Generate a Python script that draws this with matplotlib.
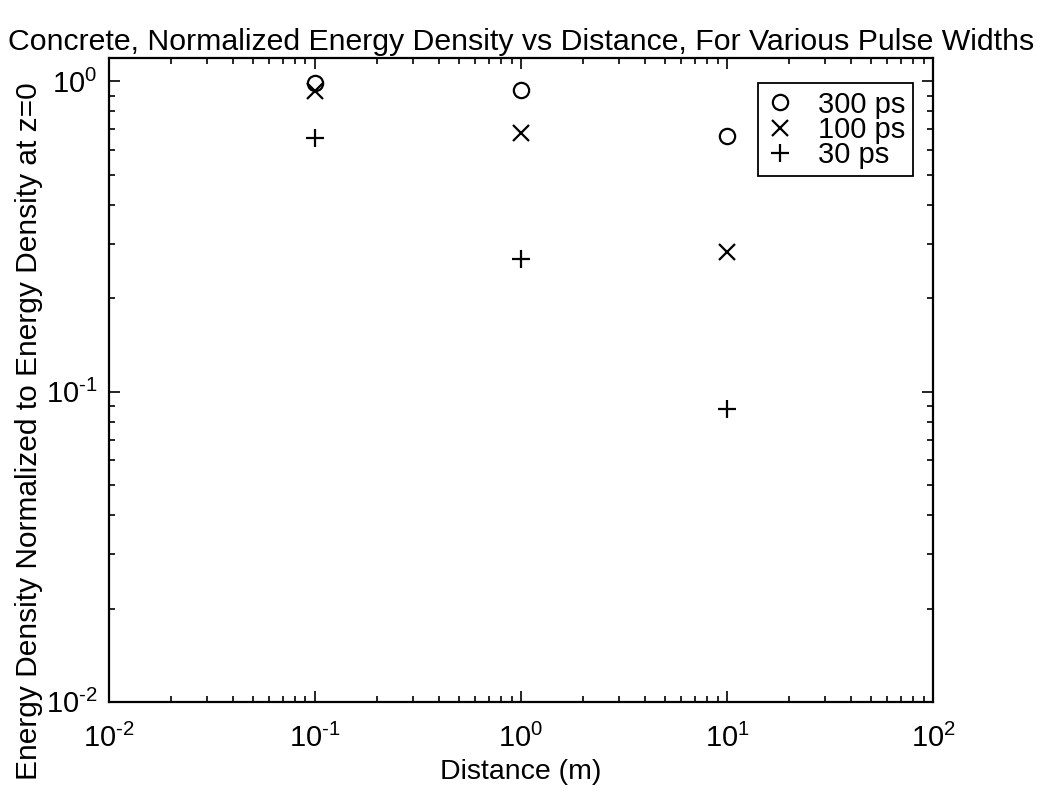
import matplotlib
matplotlib.use("Agg")
import matplotlib.pyplot as plt
from matplotlib.ticker import LogLocator, NullFormatter

plt.rcParams['font.family'] = ['Liberation Sans', 'DejaVu Sans']
plt.rcParams['mathtext.fontset'] = 'custom'
plt.rcParams['mathtext.rm'] = 'Liberation Sans'
plt.rcParams['mathtext.it'] = 'Liberation Sans'

distance = [0.1, 1.0, 10.0]
e_300ps = [0.99, 0.94, 0.665]
e_100ps = [0.93, 0.68, 0.282]
e_30ps = [0.655, 0.268, 0.088]
labels = ['300 ps', '100 ps', '30 ps']
xtick_vals = [1e-2, 1e-1, 1e0, 1e1, 1e2]
xtick_labels = [r'$10^{\text{-2}}$', r'$10^{\text{-1}}$', r'$10^{0}$', r'$10^{1}$', r'$10^{2}$']
ytick_vals = [1e-2, 1e-1, 1e0]
ytick_labels = [r'$10^{\text{-2}}$', r'$10^{\text{-1}}$', r'$10^{0}$']

fig = plt.figure(figsize=(10.45, 7.94), dpi=100)
ax = fig.add_axes([0.104, 0.116, 0.789, 0.811])

ax.plot(distance, e_300ps, linestyle='none', marker='o', markersize=11,
        markerfacecolor='none', markeredgecolor='black', markeredgewidth=1.6, label=labels[0])
ax.plot(distance, e_100ps, linestyle='none', marker='x', markersize=12,
        color='black', markeredgewidth=1.6, label=labels[1])
ax.plot(distance, e_30ps, linestyle='none', marker='+', markersize=13,
        color='black', markeredgewidth=1.6, label=labels[2])

ax.set_xscale('log')
ax.set_yscale('log')
ax.set_xlim(1e-2, 1e2)
ax.set_ylim(1e-2, 1.19)
ax.set_xticks(xtick_vals)
ax.set_xticklabels(xtick_labels)
ax.set_yticks(ytick_vals)
ax.set_yticklabels(ytick_labels)
ax.xaxis.set_minor_locator(LogLocator(base=10, subs=range(2, 10), numticks=20))
ax.yaxis.set_minor_locator(LogLocator(base=10, subs=range(2, 10), numticks=20))
ax.xaxis.set_minor_formatter(NullFormatter())
ax.yaxis.set_minor_formatter(NullFormatter())
ax.tick_params(which='both', direction='in', top=True, right=True, width=1.2)
ax.tick_params(which='major', length=8, labelsize=21)
ax.tick_params(axis='x', which='major', pad=16)
ax.tick_params(axis='y', which='major', pad=8)
ax.tick_params(which='minor', length=4)
for s in ax.spines.values():
    s.set_linewidth(1.6)

ax.set_xlabel('Distance (m)', fontsize=20.5, labelpad=4)
ax.set_ylabel('Energy Density Normalized to Energy Density at z=0', fontsize=21.5)
ax.yaxis.set_label_coords(-0.08, 0.42)
ax.set_title('Concrete, Normalized Energy Density vs Distance, For Various Pulse Widths',
             fontsize=21.8, pad=6)

leg = ax.legend(loc='upper right', bbox_to_anchor=(0.975, 0.961), fontsize=21,
                frameon=True, fancybox=False, edgecolor='black', framealpha=1,
                handlelength=1.0, handletextpad=0.8, borderpad=0.26, labelspacing=-0.1,
                borderaxespad=0)
leg.get_frame().set_linewidth(1.3)

fig.savefig('out.png', dpi=100)
